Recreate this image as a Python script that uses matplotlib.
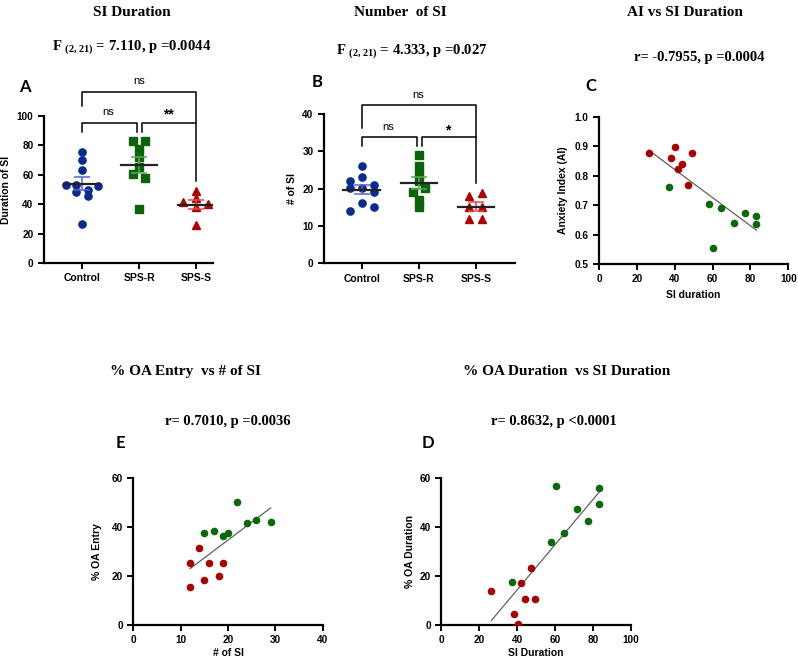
import matplotlib
matplotlib.use("Agg")
import matplotlib.pyplot as plt
import numpy as np

plt.rcParams['font.family'] = ['Liberation Sans', 'DejaVu Sans']
plt.rcParams['mathtext.fontset'] = 'custom'
plt.rcParams['mathtext.rm'] = 'Liberation Serif'
plt.rcParams['mathtext.bf'] = 'Liberation Serif:bold'

groups = ["Control", "SPS-R", "SPS-S"]

# panel A: SI duration per animal
dur_control = [75.6, 70.4, 63.6, 53.4, 53.4, 52.5, 50.0, 48.0, 45.5, 26.3]
dur_spsr = [83.0, 83.0, 77.4, 71.8, 65.0, 60.4, 57.9, 36.9]
dur_spss = [49.1, 43.9, 41.6, 40.0, 37.8, 26.0]

# panel B: number of SI per animal
num_control = [26.1, 23.0, 22.1, 21.1, 20.1, 20.1, 19.0, 16.1, 15.0, 14.1]
num_spsr = [29.1, 26.1, 23.9, 22.0, 20.1, 19.1, 17.0, 15.0]
num_spss = [18.0, 18.9, 15.2, 15.2, 11.9, 11.9]

# panel C: AI vs SI duration
ai_red_x = [26.2, 40.1, 38.2, 49.3, 44.0, 41.6, 47.0]
ai_red_y = [0.878, 0.898, 0.861, 0.876, 0.838, 0.821, 0.767]
ai_green_x = [37.0, 57.9, 64.4, 71.5, 77.1, 82.9, 83.1, 60.2]
ai_green_y = [0.760, 0.703, 0.690, 0.639, 0.674, 0.664, 0.637, 0.553]

# panel E: % OA entry vs # of SI
entry_red_x = [13.9, 12.0, 16.0, 19.0, 18.0, 15.0, 12.0]
entry_red_y = [31.3, 25.1, 25.1, 25.1, 20.1, 18.2, 15.3]
entry_green_x = [22.0, 24.0, 26.0, 29.0, 15.0, 17.0, 19.0, 20.0]
entry_green_y = [50.0, 41.7, 42.9, 42.1, 37.6, 38.4, 36.4, 37.6]

# panel D: % OA duration vs SI duration
oad_red_x = [47.1, 41.9, 26.4, 44.1, 49.4, 38.2, 40.3]
oad_red_y = [23.1, 17.0, 14.0, 10.6, 10.5, 4.3, 0.5]
oad_green_x = [60.3, 83.1, 83.0, 71.4, 77.2, 64.5, 58.0, 37.1]
oad_green_y = [56.5, 55.7, 49.3, 47.1, 42.2, 37.6, 33.7, 17.4]

# horizontal spread of the dots (layout only)
jit_a = [[0, 0, 0, -0.28, -0.1, 0.28, 0.1, -0.1, 0.1, 0],
         [-0.1, 0.1, 0, 0, 0, -0.1, 0.1, 0],
         [0, 0, -0.22, 0.21, 0, 0]]
jit_b = [[0, 0, -0.21, 0.21, -0.21, 0, 0.21, 0, 0.21, -0.21],
         [0, 0, 0, 0, 0.11, -0.11, 0, 0],
         [-0.12, 0.1, -0.12, 0.1, -0.12, 0.1]]

blue, green, red = '#0a2a90', '#0b640b', '#b00000'
sem_cols = ['#5a64c8', '#5fa35f', '#d85050']
markers = ['o', 's', '^']
dark_red, dark_green = '#a80000', '#0a6a0a'

W, H = 798, 661
fig = plt.figure(figsize=(W / 100, H / 100), dpi=100)


def ax_px(left, top, right, bottom):
    return fig.add_axes([left / W, 1 - bottom / H, (right - left) / W, (bottom - top) / H])


def txt(x, y, s, **kw):
    fig.text(x / W, 1 - y / H, s, ha='center', va='center', **kw)


def style(ax):
    for sp in ['top', 'right']:
        ax.spines[sp].set_visible(False)
    for sp in ['left', 'bottom']:
        ax.spines[sp].set_linewidth(1.6)
    ax.tick_params(width=1.4, length=4, labelsize=7.2)
    for lab in ax.get_xticklabels() + ax.get_yticklabels():
        lab.set_fontweight('bold')


def dot_panel(ax, data, jit, ylim, yticks, ylabel):
    cols = [blue, green, red]
    for i, vals in enumerate(data):
        vals = np.array(vals)
        xs = i + np.array(jit[i])
        ax.plot(xs, vals, linestyle='none', marker=markers[i], ms=5.2,
                color=cols[i], zorder=3)
        m = vals.mean()
        sem = vals.std(ddof=1) / np.sqrt(len(vals))
        ax.errorbar(i, m, yerr=sem, color=sem_cols[i], capsize=6, lw=1.1,
                    capthick=1.1, zorder=4)
        ax.plot([i - 0.32, i + 0.32], [m, m], color='#222222', lw=1.6, zorder=5)
    ax.set_ylim(*ylim)
    ax.set_yticks(yticks)
    ax.set_xticks(range(3))
    ax.set_xticklabels(groups)
    style(ax)
    ax.tick_params(axis='x', labelsize=7.5)
    ax.set_ylabel(ylabel, fontsize=7.5, fontweight='bold', va='center')


def bracket(ax, xs, ys):
    ax.plot(xs, ys, color='black', lw=1.1, clip_on=False)


def corr_panel(ax, xr, yr, xg, yg, xlim, ylim, xticks, yticks, xlabel, ylabel, xl_y):
    ax.scatter(xr, yr, s=30, color=dark_red, linewidths=0, zorder=3)
    ax.scatter(xg, yg, s=30, color=dark_green, linewidths=0, zorder=3)
    x = np.r_[xr, xg]
    y = np.r_[yr, yg]
    k, b = np.polyfit(x, y, 1)
    xs = np.array([x.min(), x.max()])
    ax.plot(xs, k * xs + b, color='#606060', lw=0.9, zorder=2)
    ax.set_xlim(*xlim)
    ax.set_ylim(*ylim)
    ax.set_xticks(xticks)
    ax.set_yticks(yticks)
    style(ax)
    ax.set_xlabel(xlabel, fontsize=7.5, fontweight='bold', va='center')
    ax.set_ylabel(ylabel, fontsize=7.5, fontweight='bold', va='center')
    ax.xaxis.set_label_coords(0.5, xl_y)


ns_font = dict(family=['Liberation Sans Narrow', 'Liberation Sans'], fontsize=8)

# A
axA = ax_px(44, 116, 213, 263)
dot_panel(axA, [dur_control, dur_spsr, dur_spss], jit_a, (0, 100),
          [0, 20, 40, 60, 80, 100], 'Duration of SI')
axA.set_xlim(-0.67, 2.3)
axA.yaxis.set_label_coords(-0.225, 0.5)
bracket(axA, [0, 0, 2, 2], [106.5, 116, 116, 56])
bracket(axA, [0, 0, 0.96, 0.96], [89, 95, 95, 89])
bracket(axA, [1.06, 1.06, 2], [89, 95, 95])
axA.text(1.0, 124, 'ns', ha='center', va='center', **ns_font)
axA.text(0.46, 103, 'ns', ha='center', va='center', **ns_font)
axA.text(1.51, 101, '**', ha='center', va='center', fontsize=10, fontweight='bold')

# B
axB = ax_px(324, 114, 515, 263.3)
dot_panel(axB, [num_control, num_spsr, num_spss], jit_b, (0, 40),
          [0, 10, 20, 30, 40], '# of SI')
axB.set_xlim(-0.66, 2.68)
axB.yaxis.set_label_coords(-0.17, 0.5)
bracket(axB, [0, 0, 2, 2], [36.2, 42.4, 42.4, 21.4])
bracket(axB, [0, 0, 0.965, 0.965], [31.5, 33.9, 33.9, 31.5])
bracket(axB, [1.06, 1.06, 2], [31.5, 33.9, 33.9])
axB.text(0.99, 45.1, 'ns', ha='center', va='center', **ns_font)
axB.text(0.46, 36.6, 'ns', ha='center', va='center', **ns_font)
axB.text(1.51, 35.6, '*', ha='center', va='center', fontsize=10, fontweight='bold')

# C
axC = ax_px(599, 116.7, 788.3, 264)
corr_panel(axC, ai_red_x, ai_red_y, ai_green_x, ai_green_y, (0, 100), (0.5, 1.0),
           [0, 20, 40, 60, 80, 100], [0.5, 0.6, 0.7, 0.8, 0.9, 1.0],
           'SI duration', 'Anxiety Index (AI)', -0.21)
axC.yaxis.set_label_coords(-0.19, 0.5)

# E
axE = ax_px(133.3, 477.7, 322.7, 625)
corr_panel(axE, entry_red_x, entry_red_y, entry_green_x, entry_green_y, (0, 40), (0, 60),
           [0, 10, 20, 30, 40], [0, 20, 40, 60], '# of SI', '% OA Entry', -0.19)
axE.yaxis.set_label_coords(-0.19, 0.5)

# D
axD = ax_px(441.3, 477.7, 631, 625)
corr_panel(axD, oad_red_x, oad_red_y, oad_green_x, oad_green_y, (0, 100), (0, 60),
           [0, 20, 40, 60, 80, 100], [0, 20, 40, 60], 'SI Duration', '% OA Duration', -0.19)
axD.yaxis.set_label_coords(-0.165, 0.5)

serif = dict(family=['Liberation Serif', 'DejaVu Serif'], fontweight='bold')
txt(132, 12, 'SI Duration', fontsize=11, **serif)
txt(400, 12, 'Number  of SI', fontsize=11, **serif)
txt(685, 12, 'AI vs SI Duration', fontsize=11, **serif)
txt(185, 372, '% OA Entry  vs # of SI', fontsize=11, **serif)
txt(567, 372, '% OA Duration  vs SI Duration', fontsize=11, **serif)

txt(132, 48, r'F $_{\mathbf{(2,21)}}$ = 7.110, p =0.0044', fontsize=10.6, **serif)
txt(412, 52, r'F $_{\mathbf{(2,21)}}$ = 4.333, p =0.027', fontsize=10.6, **serif)
txt(699, 57, 'r= -0.7955, p =0.0004', fontsize=10.5, **serif)
txt(228, 422, 'r= 0.7010, p =0.0036', fontsize=10.5, **serif)
txt(554, 422, 'r= 0.8632, p <0.0001', fontsize=10.5, **serif)

letter = dict(family=['Lato', 'DejaVu Sans'], fontweight='bold', fontsize=12)
txt(25, 87, 'A', **letter)
txt(317, 82, 'B', **letter)
txt(591, 86, 'C', **letter)
txt(120, 443, 'E', **letter)
txt(428, 443, 'D', **letter)

fig.savefig('out.png', dpi=100)
